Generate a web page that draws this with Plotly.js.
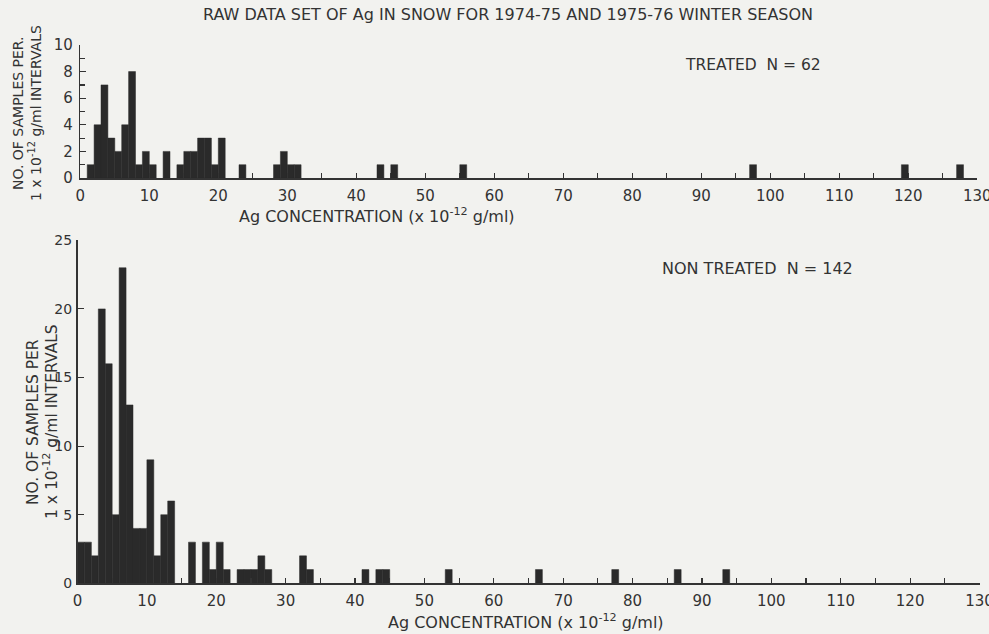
<!DOCTYPE html>
<html>
<head>
<meta charset="utf-8">
<script src="https://cdn.plot.ly/plotly-3.0.1.min.js"></script>
<style>html,body{margin:0;padding:0;background:#f2f2ef;}</style>
</head>
<body>
<div id="chart" style="width:989px;height:634px;"></div>
<script>
// Treated: bin start (x 10^-12 g/ml, 1-unit intervals) and number of samples
const treatedBins   = [1,2,3,4,5,6,7,8,9,10,12,14,15,16,17,18,19,20,23,28,29,30,31,43,45,55,97,119,127];
const treatedCounts = [1,4,7,3,2,4,8,1,2,1,2,1,2,2,3,3,1,3,1,1,2,1,1,1,1,1,1,1,1];

// Non treated
const nonTreatedBins   = [0,1,2,3,4,5,6,7,8,9,10,11,12,13,16,18,19,20,21,23,24,25,26,27,32,33,41,43,44,53,66,77,86,93];
const nonTreatedCounts = [3,3,2,20,16,5,23,13,4,4,9,2,5,6,3,3,1,3,1,1,1,1,2,1,2,1,1,1,1,1,1,1,1,1];

const xTickVals = [0,10,20,30,40,50,60,70,80,90,100,110,120,130];
const xTickText = ['0','10','20','30','40','50','60','70','80','90','100','110','120','130'];
const xMinorVals = [5,15,25,35,45,55,65,75,85,95,105,115,125];

const ink = '#2a2a2a';
const txt = '#333333';
const fontFam = 'DejaVu Sans, Liberation Sans, sans-serif';

const barStyle = {color: ink, line: {color: ink, width: 0.5}};

const traces = [
  {type: 'bar', x: treatedBins, y: treatedCounts, width: 1, offset: 0,
   marker: barStyle, xaxis: 'x', yaxis: 'y', hoverinfo: 'x+y'},
  {type: 'bar', x: nonTreatedBins, y: nonTreatedCounts, width: 1, offset: 0,
   marker: barStyle, xaxis: 'x2', yaxis: 'y2', hoverinfo: 'x+y'}
];

function xAxis(domain, anchor) {
  return {
    domain: domain, anchor: anchor, range: [0, 130],
    tickvals: xTickVals, ticktext: xTickText,
    ticks: 'inside', ticklen: 5, tickwidth: 1.2, tickcolor: txt,
    minor: {tickvals: xMinorVals, ticks: 'inside', ticklen: 5, tickwidth: 1.2, tickcolor: txt},
    showline: true, linecolor: txt, linewidth: 1.5,
    showgrid: false, zeroline: false,
    tickfont: {family: fontFam, size: 15, color: txt},
    ticklabelstandoff: 3, ticklabeloverflow: 'allow', fixedrange: true
  };
}
function yAxis(domain, anchor, max, dtick, minorDtick, standoff, fsize) {
  const a = {
    domain: domain, anchor: anchor, range: [0, max], dtick: dtick, tick0: 0,
    ticks: 'inside', ticklen: 6, tickwidth: 1.2, tickcolor: txt,
    showline: true, linecolor: txt, linewidth: 1.5,
    showgrid: false, zeroline: false,
    tickfont: {family: fontFam, size: fsize, color: txt},
    ticklabelstandoff: standoff, ticklabeloverflow: 'allow', fixedrange: true
  };
  if (minorDtick) a.minor = {dtick: minorDtick, ticks: 'inside', ticklen: 5, tickwidth: 1.2, tickcolor: txt};
  return a;
}

const W = 989, H = 634;
function px(x) { return x / W; }
function py(y) { return (H - y) / H; }
function note(text, x, y, size, angle) {
  return {text: text, x: px(x), y: py(y), xref: 'paper', yref: 'paper', showarrow: false,
          textangle: angle || 0, xanchor: 'center', yanchor: 'middle',
          font: {family: fontFam, size: size, color: txt}};
}

const layout = {
  width: W, height: H,
  margin: {l: 0, r: 0, t: 0, b: 0},
  paper_bgcolor: '#f2f2ef', plot_bgcolor: 'rgba(0,0,0,0)',
  showlegend: false, bargap: 0,
  xaxis: xAxis([px(80.3), px(977.3)], 'y'),
  yaxis: yAxis([py(178), py(45)], 'x', 10, 2, 1, 3, 15),
  xaxis2: xAxis([px(77.5), px(979.5)], 'y2'),
  yaxis2: yAxis([py(583.3), py(240.3)], 'x2', 25, 5, null, 1, 14),
  annotations: [
    note('RAW DATA SET OF Ag IN SNOW FOR 1974-75 AND 1975-76 WINTER SEASON', 508, 15, 16),
    note('TREATED  N = 62', 753, 65, 15.5),
    note('NON TREATED  N = 142', 757, 268, 16),
    note('Ag CONCENTRATION (x 10<sup>-12</sup> g/ml)', 377, 215, 16),
    note('Ag CONCENTRATION (x 10<sup>-12</sup> g/ml)', 526, 621, 16),
    note('NO. OF SAMPLES PER.', 18, 113, 14, -90),
    note('1 x 10<sup>-12</sup> g/ml INTERVALS', 35, 113, 14, -90),
    note('NO. OF SAMPLES PER', 33, 422, 15.5, -90),
    note('1 x 10<sup>-12</sup> g/ml INTERVALS', 50, 422, 15.5, -90)
  ]
};

Plotly.newPlot('chart', traces, layout, {displayModeBar: false, staticPlot: true});
</script>
</body>
</html>
